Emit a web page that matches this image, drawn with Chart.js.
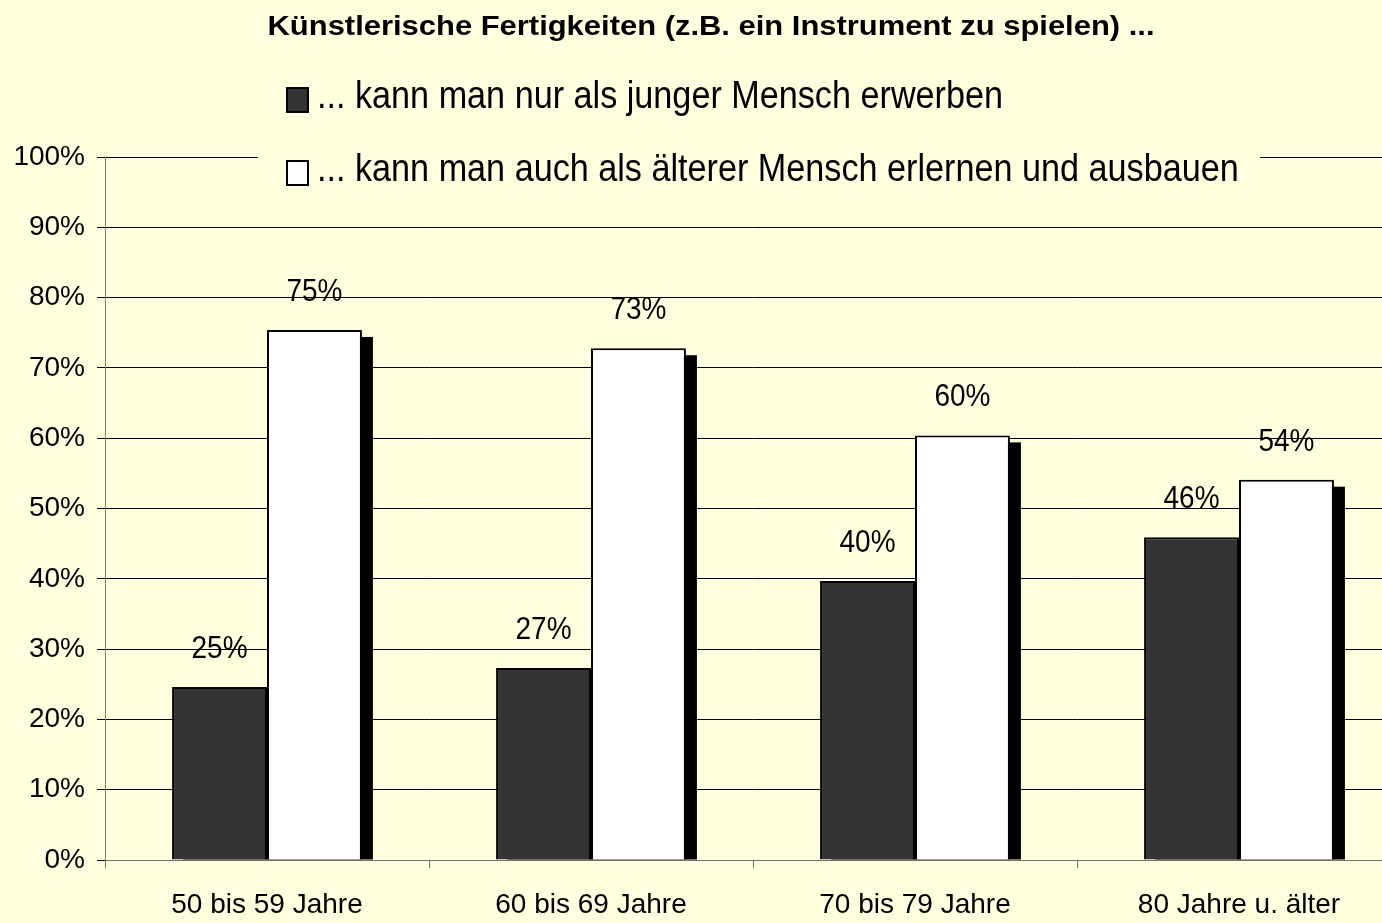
<!DOCTYPE html>
<html lang="de">
<head>
    <meta charset="UTF-8">
    <title>Künstlerische Fertigkeiten</title>
    <script src="https://cdn.jsdelivr.net/npm/chart.js"></script>
    <style>
        html, body {
            margin: 0;
            height: 100%;
            overflow: hidden;
            background: #ffffe0;
        }
        canvas {
            display: block;
        }
    </style>
</head>
<body>
    <canvas id="chart" width="1410" height="923"></canvas>

    <script>
        const titleText = 'Künstlerische Fertigkeiten (z.B. ein Instrument zu spielen) ...';
        const categories = ['50 bis 59 Jahre', '60 bis 69 Jahre', '70 bis 79 Jahre', '80 Jahre u. älter'];
        const seriesLabels = ['... kann man nur als junger Mensch erwerben', '... kann man auch als älterer Mensch erlernen und ausbauen'];
        const nurJung = [24.6, 27.3, 39.7, 45.9];
        const auchAlt = [75.4, 72.8, 60.4, 54.1];
        const yTicks = [0, 10, 20, 30, 40, 50, 60, 70, 80, 90, 100];

        const bg = '#ffffe0';
        const font = 'Arial, "Liberation Sans", sans-serif';

        // text on the slide is a bit taller than wide
        function stretchedText(ctx, text, x, y, size, bold, align, sy, maxW) {
            ctx.save();
            ctx.translate(x, y);
            ctx.scale(1, sy);
            ctx.font = (bold ? 'bold ' : '') + size + 'px ' + font;
            ctx.textAlign = align;
            ctx.textBaseline = 'alphabetic';
            ctx.fillStyle = '#000';
            if (maxW) ctx.fillText(text, 0, 0, maxW);
            else ctx.fillText(text, 0, 0);
            ctx.restore();
        }

        const shadowPlugin = {
            id: 'shadow',
            beforeDatasetsDraw(chart) {
                const ctx = chart.ctx;
                ctx.save();
                ctx.fillStyle = '#000';
                chart.data.datasets.forEach((ds, i) => {
                    chart.getDatasetMeta(i).data.forEach(bar => {
                        const w = bar.width;
                        ctx.fillRect(bar.x - w / 2 + 11, bar.y + 7, w, bar.base - bar.y - 7);
                    });
                });
                ctx.restore();
            }
        };

        const labelPlugin = {
            id: 'labels',
            afterDatasetsDraw(chart) {
                const ctx = chart.ctx;
                chart.data.datasets.forEach((ds, i) => {
                    chart.getDatasetMeta(i).data.forEach((bar, j) => {
                        stretchedText(ctx, Math.round(ds.data[j]) + '%', bar.x, bar.y - 29, 28, false, 'center', 1.15);
                    });
                });
            }
        };

        const headerPlugin = {
            id: 'header',
            afterDraw(chart) {
                const ctx = chart.ctx;
                // legend box hides the top grid line
                ctx.save();
                ctx.fillStyle = bg;
                ctx.fillRect(258, 70, 1002, 125);
                ctx.restore();

                stretchedText(ctx, titleText, 711, 35, 31, true, 'center', 0.92, 887);

                const rows = [108, 181];
                chart.data.datasets.forEach((ds, i) => {
                    ctx.save();
                    ctx.fillStyle = ds.backgroundColor;
                    ctx.strokeStyle = '#000';
                    ctx.lineWidth = 2;
                    ctx.fillRect(287, rows[i] - 20, 21, 24);
                    ctx.strokeRect(287, rows[i] - 20, 21, 24);
                    ctx.restore();
                    stretchedText(ctx, ds.label, 317, rows[i], 34.2, false, 'left', 1.13);
                });
            }
        };

        new Chart(document.getElementById('chart'), {
            type: 'bar',
            data: {
                labels: categories,
                datasets: [{
                    label: seriesLabels[0],
                    data: nurJung,
                    backgroundColor: '#333333',
                    borderColor: '#000',
                    borderWidth: 2,
                    borderSkipped: 'bottom'
                }, {
                    label: seriesLabels[1],
                    data: auchAlt,
                    backgroundColor: '#ffffff',
                    borderColor: '#000',
                    borderWidth: 2,
                    borderSkipped: 'bottom'
                }]
            },
            options: {
                responsive: false,
                animation: false,
                layout: {
                    padding: { top: 157, right: 9, left: 0, bottom: 0 }
                },
                datasets: {
                    bar: { categoryPercentage: 0.586, barPercentage: 1 }
                },
                plugins: {
                    legend: { display: false },
                    title: { display: false },
                    tooltip: { enabled: false }
                },
                scales: {
                    x: {
                        afterFit: s => { s.height = 63; },
                        grid: {
                            offset: true,
                            drawOnChartArea: false,
                            tickLength: 8,
                            color: '#707070'
                        },
                        border: { color: '#707070', width: 1 },
                        ticks: {
                            color: '#000',
                            padding: 20,
                            font: { family: font, size: 28 }
                        }
                    },
                    y: {
                        min: 0,
                        max: 100,
                        afterFit: s => { s.width = 105; },
                        afterBuildTicks: s => { s.ticks = yTicks.map(v => ({ value: v })); },
                        grid: {
                            color: '#000',
                            lineWidth: 1,
                            tickLength: 8
                        },
                        border: { color: '#808080', width: 1 },
                        ticks: {
                            color: '#000',
                            padding: 12,
                            font: { family: font, size: 28 },
                            callback: v => v + '%'
                        }
                    }
                }
            },
            plugins: [shadowPlugin, labelPlugin, headerPlugin]
        });
    </script>
</body>
</html>
